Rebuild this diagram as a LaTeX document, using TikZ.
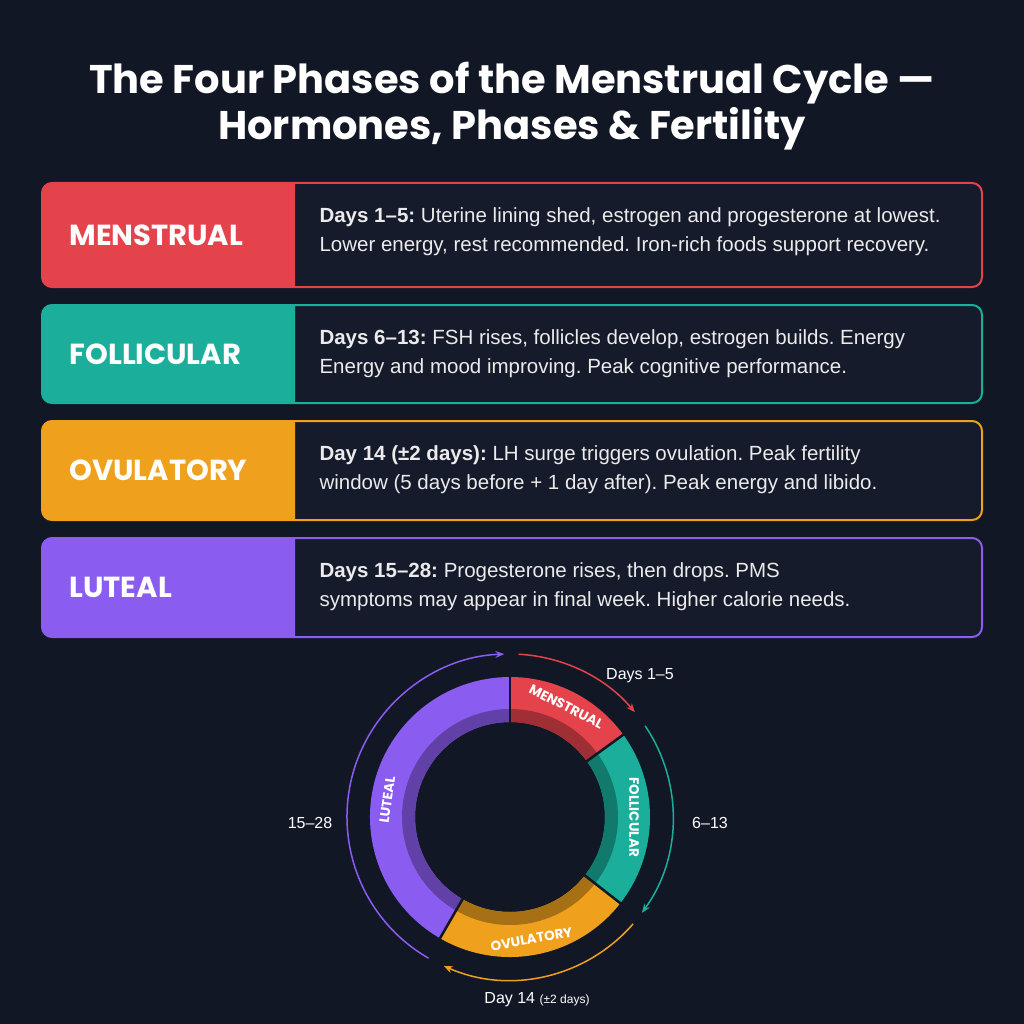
\documentclass[tikz,border=0pt]{standalone}
\usepackage{fontspec}
\setmainfont{Liberation Sans}
\newfontfamily\pop{Poppins}
\usetikzlibrary{arrows.meta}
\definecolor{bg}{HTML}{121726}
\definecolor{card}{HTML}{161B2C}
\definecolor{cr}{HTML}{E5434B}
\definecolor{ct}{HTML}{1AAE9B}
\definecolor{co}{HTML}{EFA01D}
\definecolor{cp}{HTML}{8A5CF0}
\frenchspacing
\begin{document}
\begin{tikzpicture}[x=1pt,y=-1pt,
  lab/.style={font=\pop\bfseries\fontsize{29}{32}\selectfont,text=white,anchor=west},
  body/.style={font=\fontsize{20.5}{29.5}\selectfont,text=white!92!black,anchor=north west,align=left},
  ring/.style={font=\pop\bfseries\fontsize{13.5}{14}\selectfont,text=white,inner sep=0pt},
  arr/.style={line width=1.5pt,-{Stealth[length=9pt,width=7pt]}},
  dl/.style={font=\fontsize{16}{18}\selectfont,text=white}]
\fill[bg] (0,0) rectangle (1024,1024);
\useasboundingbox (0,0) rectangle (1024,1024);
\node[font=\pop\bfseries\fontsize{40}{46}\selectfont,text=white,align=center] (title) at (512,106)
 {The Four Phases of the Menstrual Cycle —\\Hormones, Phases \& Fertility};
\newcommand\card[7]{%
 \draw[#1,line width=2pt,fill=card,rounded corners=10] (42,#2) rectangle (982,#3);
 \begin{scope}\clip (40,#2-2) rectangle (295,#3+2);
 \fill[#1,rounded corners=10] (42,#2) rectangle (982,#3);\end{scope}
 \node[lab] (#4) at (66,{(#2+#3)/2}) {#5};
 \node[body] (#4t) at (316,{#2+21}) {\textbf{#6}#7};}
\card{cr}{183}{287}{m}{MENSTRUAL}{Days 1–5:}{ Uterine lining shed, estrogen and progesterone at lowest.\\Lower energy, rest recommended. Iron-rich foods support recovery.}
\card{ct}{305}{403}{f}{FOLLICULAR}{Days 6–13:}{ FSH rises, follicles develop, estrogen builds. Energy\\Energy and mood improving. Peak cognitive performance.}
\card{co}{421}{520}{o}{OVULATORY}{Day 14 (±2 days):}{ LH surge triggers ovulation. Peak fertility\\window (5 days before + 1 day after). Peak energy and libido.}
\card{cp}{538}{637}{l}{LUTEAL}{Days 15–28:}{ Progesterone rises, then drops. PMS\\symptoms may appear in final week. Higher calorie needs.}
\begin{scope}[shift={(510,817)},yscale=-1]
 \newcommand\seg[3]{%
  \fill[#1] (#2:140) arc[start angle=#2,end angle=#3,radius=140] -- (#3:95) arc[start angle=#3,end angle=#2,radius=95] -- cycle;
  \fill[#1!70!black] (#2:108) arc[start angle=#2,end angle=#3,radius=108] -- (#3:95) arc[start angle=#3,end angle=#2,radius=95] -- cycle;}
 \seg{cr}{90}{36}
 \seg{ct}{36}{-38}
 \seg{co}{-38}{-120}
 \seg{cp}{-120}{-270}
 \foreach \a in {90,36,-38,-120} \draw[bg,line width=2.5pt] (\a:93) -- (\a:142);
 \node[ring,rotate=-27] (rm) at (63:124) {MENSTRUAL};
 \node[ring,rotate=-90] (rf) at (0:124) {FOLLICULAR};
 \node[ring,rotate=10] (ro) at (-80:124) {OVULATORY};
 \node[ring,rotate=82] (rl) at (172:124) {LUTEAL};
 \draw[arr,cr] (87:163) arc[start angle=87,end angle=40,radius=163];
 \draw[arr,ct] (34:163) arc[start angle=34,end angle=-36,radius=163];
 \draw[arr,co] (-41:163) arc[start angle=-41,end angle=-114,radius=163];
 \draw[arr,cp] (-120:163) arc[start angle=-120,end angle=-268,radius=163];
 \node[dl] (d1) at (130,141) {Days 1–5};
 \node[dl] (d2) at (200,-6) {6–13};
 \node[dl] (d3) at (-200,-6) {15–28};
 \node[dl] (d4) at (27,-183) {Day 14 {\fontsize{12}{14}\selectfont(±2 days)}};
\end{scope}
\end{tikzpicture}
\end{document}
